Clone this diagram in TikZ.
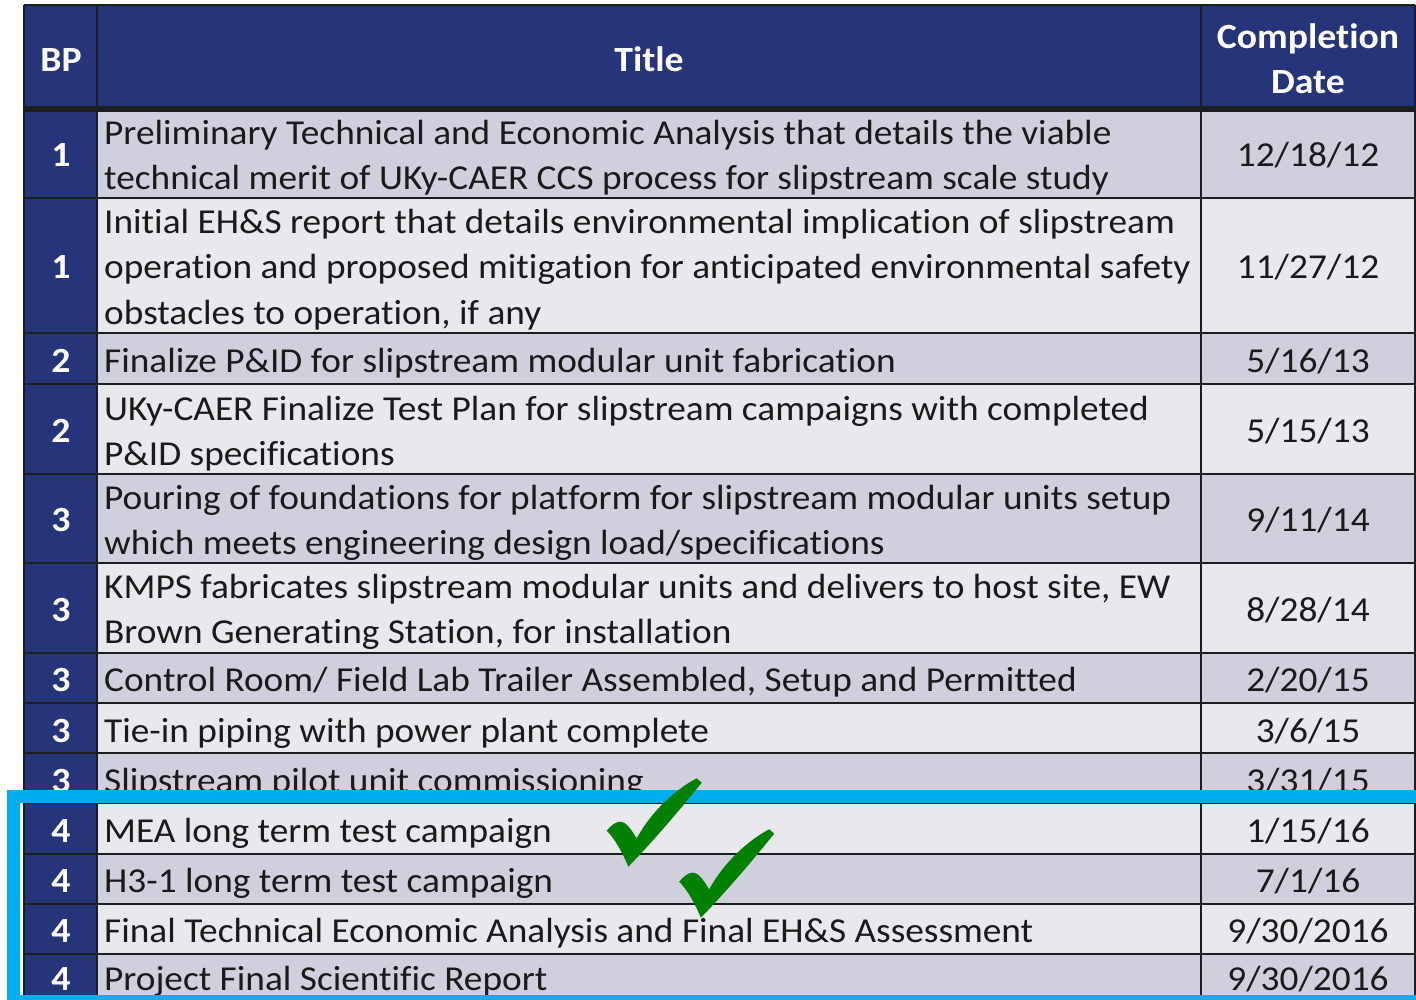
\documentclass[tikz,border=0pt]{standalone}
\usepackage{fontspec}
\setmainfont{Carlito}[FakeStretch=1.066, RawFeature={-liga}]
\definecolor{navy}{HTML}{26347A}
\definecolor{rowdark}{HTML}{CFD0DB}
\definecolor{rowlight}{HTML}{E8E8ED}
\definecolor{gridcol}{HTML}{1A1E1E}
\definecolor{txtcol}{HTML}{1A1A1A}
\definecolor{cyanbox}{HTML}{00AEEF}
\definecolor{checkgreen}{HTML}{008000}
\begin{document}
\begin{tikzpicture}[x=1pt,y=-1pt,
  txt/.style={anchor=base west, inner sep=0pt, text=txtcol, font=\fontsize{35}{42}\selectfont},
  dt/.style={anchor=base, inner sep=0pt, text=txtcol, font=\fontsize{35}{42}\selectfont},
  bpn/.style={anchor=base, inner sep=0pt, text=white, font=\bfseries\fontsize{35.4}{42}\selectfont},
  hdr/.style={anchor=base, inner sep=0pt, text=white, font=\bfseries\fontsize{35.4}{42}\selectfont},
  grid/.style={draw=gridcol, line width=2.6pt},
  greencheck/.pic={\fill[checkgreen] (0,0) .. controls (4,-5) and (9,-9) .. (13.3,-9) .. controls (20,-9) and (25,0) .. (30,7.6) .. controls (45,-20) and (70,-42) .. (90,-52.4) -- (95,-48) .. controls (74,-22) and (47,10) .. (21.6,36) .. controls (16,22) and (8,8) .. (0,0) -- cycle;}
]
\useasboundingbox (0,0) rectangle (1416,1000);
% backgrounds
\fill[navy] (24,5) rectangle (1415,110);
\fill[navy] (24,110) rectangle (97,1004);
\fill[rowdark]  (97,112) rectangle (1415,198);
\fill[rowlight] (97,198) rectangle (1415,333);
\fill[rowdark]  (97,333) rectangle (1415,384);
\fill[rowlight] (97,384) rectangle (1415,474);
\fill[rowdark]  (97,474) rectangle (1415,563);
\fill[rowlight] (97,563) rectangle (1415,653);
\fill[rowdark]  (97,653) rectangle (1415,703);
\fill[rowlight] (97,703) rectangle (1415,753);
\fill[rowdark]  (97,753) rectangle (1415,803);
\fill[rowlight] (97,803) rectangle (1415,854);
\fill[rowdark]  (97,854) rectangle (1415,904);
\fill[rowlight] (97,904) rectangle (1415,954);
\fill[rowdark]  (97,954) rectangle (1415,1004);
% grid
\foreach \yy in {198,333,384,474,563,653,703,753,803,854,904,954}
  \draw[grid] (24,\yy) -- (1415,\yy);
\draw[draw=gridcol, line width=6pt] (24,109) -- (1415,109);
\draw[grid] (24,5) -- (1415,5);
\foreach \xx in {24,97,1201,1415}
  \draw[grid] (\xx,5) -- (\xx,1004);
% header
\node[hdr] (hbp) at (61,72) {BP};
\node[hdr] (htitle) at (649,72) {Title};
\node[hdr] (hcomp) at (1308,49) {Completion};
\node[hdr] (hdate) at (1308,94) {Date};
% row 1
\node[bpn] (b1) at (61,167) {1};
\node[txt] (t1a) at (104,145) {Preliminary Technical and Economic Analysis that details the viable};
\node[txt] (t1b) at (104,190) {technical merit of UKy-CAER CCS process for slipstream scale study};
\node[dt] (d1) at (1308,167) {12/18/12};
% row 2
\node[bpn] (b2) at (61,279) {1};
\node[txt] (t2a) at (104,234) {Initial EH\&S report that details environmental implication of slipstream};
\node[txt] (t2b) at (104,279) {operation and proposed mitigation for anticipated environmental safety};
\node[txt] (t2c) at (104,324) {obstacles to operation, if any};
\node[dt] (d2) at (1308,279) {11/27/12};
% row 3
\node[bpn] (b3) at (61,372) {2};
\node[txt] (t3a) at (104,372) {Finalize P\&ID for slipstream modular unit fabrication};
\node[dt] (d3) at (1308,372) {5/16/13};
% row 4
\node[bpn] (b4) at (61,442) {2};
\node[txt] (t4a) at (104,420) {UKy-CAER Finalize Test Plan for slipstream campaigns with completed};
\node[txt] (t4b) at (104,465) {P\&ID specifications};
\node[dt] (d4) at (1308,442) {5/15/13};
% row 5
\node[bpn] (b5) at (61,531) {3};
\node[txt] (t5a) at (104,509) {Pouring of foundations for platform for slipstream modular units setup};
\node[txt] (t5b) at (104,554) {which meets engineering design load/specifications};
\node[dt] (d5) at (1308,531) {9/11/14};
% row 6
\node[bpn] (b6) at (61,621) {3};
\node[txt] (t6a) at (104,598) {KMPS fabricates slipstream modular units and delivers to host site, EW};
\node[txt] (t6b) at (104,643) {Brown Generating Station, for installation};
\node[dt] (d6) at (1308,621) {8/28/14};
% row 7
\node[bpn] (b7) at (61,691) {3};
\node[txt] (t7a) at (104,691) {Control Room/ Field Lab Trailer Assembled, Setup and Permitted};
\node[dt] (d7) at (1308,691) {2/20/15};
% row 8
\node[bpn] (b8) at (61,742) {3};
\node[txt] (t8a) at (104,742) {Tie-in piping with power plant complete};
\node[dt] (d8) at (1308,742) {3/6/15};
% row 9
\node[bpn] (b9) at (61,792) {3};
\node[txt] (t9a) at (104,792) {Slipstream pilot unit commissioning};
\node[dt] (d9) at (1308,792) {3/31/15};
% row 10
\node[bpn] (b10) at (61,842) {4};
\node[txt] (t10a) at (104,842) {MEA long term test campaign};
\node[dt] (d10) at (1308,842) {1/15/16};
% row 11
\node[bpn] (b11) at (61,892) {4};
\node[txt] (t11a) at (104,892) {H3-1 long term test campaign};
\node[dt] (d11) at (1308,892) {7/1/16};
% row 12
\node[bpn] (b12) at (61,942) {4};
\node[txt] (t12a) at (104,942) {Final Technical Economic Analysis and Final EH\&S Assessment};
\node[dt] (d12) at (1308,942) {9/30/2016};
% row 13
\node[bpn] (b13) at (61,990) {4};
\node[txt] (t13a) at (104,990) {Project Final Scientific Report};
\node[dt] (d13) at (1308,990) {9/30/2016};
% highlight box
\draw[cyanbox, line width=12.5pt] (13.25,796.5) rectangle (1425,1001.5);
% checks
\pic at (606.7,830.7) {greencheck};
\pic at (679.2,881.7) {greencheck};
\end{tikzpicture}
\end{document}
